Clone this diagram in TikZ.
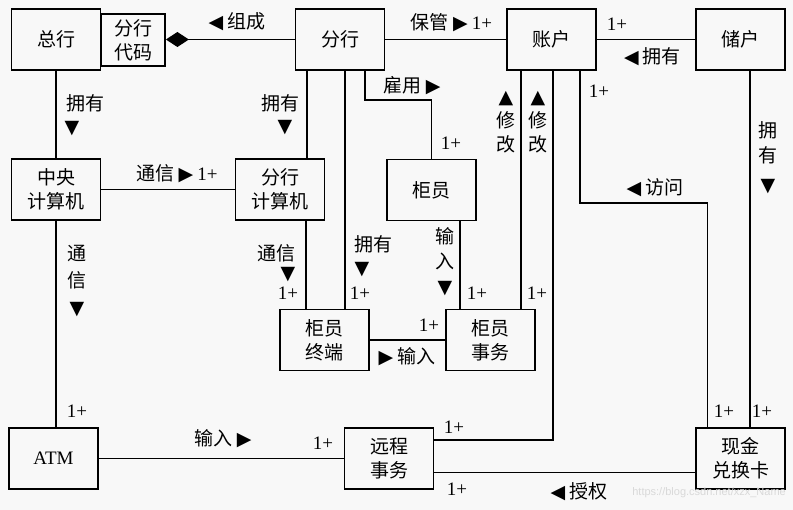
\documentclass[tikz,border=0pt]{standalone}
\usepackage{fontspec}
\setmainfont{Noto Sans CJK SC}
\newfontfamily\latf{Liberation Serif}
\newfontfamily\symf{DejaVu Sans}
\newfontfamily\urlf{Liberation Sans}
\usepackage{tikz}
\usetikzlibrary{positioning,arrows.meta}
\newcommand{\one}{{\latf 1+}}
\newcommand{\trir}{{\symf ▶}}
\newcommand{\tril}{{\symf ◀}}
\newcommand{\triu}{{\symf ▲}}
\newcommand{\trid}{{\symf ▼}}
\definecolor{bg}{gray}{0.973}
\tikzstyle{int}=[draw, minimum height = 61pt, minimum width=89pt, line width=1.8pt, align=center, inner sep=0pt]
\tikzstyle{int1}=[draw, minimum height = 52pt, minimum width=64pt, line width=1.8pt, align=center, inner sep=0pt]
\tikzstyle{lab}=[inner sep=0pt, align=center]
\tikzstyle{con}=[line width=1.8pt]

\begin{document}
\begin{tikzpicture}[x=1pt,y=-1pt,font=\fontsize{19}{24}\selectfont]
\fill[bg] (0,0) rectangle (793,510);
\useasboundingbox (0,0) rectangle (793,510);

  \node[int] at (56,39.5) (zonghang) {总行};
  \node[int1] at (133,40) (daima) {分行\\代码};
  \node[int] at (340,39.5) (fenhang) {分行};
  \node[int] at (551.5,39.5) (zhanghu) {账户};
  \node[int] at (740.5,39.5) (chuhu) {储户};

  \node[int] at (56,189.5) (zhongyang) {中央\\计算机};
  \node[int] at (280,189.5) (fjsj) {分行\\计算机};
  \node[int] at (431.5,190) (guiyuan) {柜员};

  \node[int] at (324.5,340) (zhongduan) {柜员\\终端};
  \node[int] at (490.5,340) (shiwu) {柜员\\事务};

  \node[int] at (53.5,458.5) (atm) {\latf ATM};
  \node[int] at (389,458.5) (yuancheng) {远程\\事务};
  \node[int] at (740.5,458.5) (xianjin) {现金\\兑换卡};

% top row
\draw[con,-{Diamond[length=23pt,width=15pt]}] (fenhang.west) -- (fenhang.west -| daima.east);
\node[lab] at (237,22) (zucheng) {\tril\ 组成};
\draw[con] (fenhang) -- (zhanghu);
\node[lab] at (451.5,23) (baoguan) {保管 \trir\ \one};
\draw[con] (zhanghu) -- (chuhu);
\node[lab] at (617,24) (m1) {\one};
\node[lab] at (652.5,57) (yongyou1) {\tril\ 拥有};

% left column
\draw[con] (zonghang) -- (zhongyang);
\node[lab] at (85,103) (yongyou2) {拥有};
\node[lab] at (72,129) (yongyou2t) {\trid};
\draw[con] (zhongyang) -- (fjsj);
\node[lab] at (177,174) (tongxin1) {通信 \trir\ \one};
\draw[con] (zhongyang) -- (zhongyang |- atm.north);
\node[lab, font=\fontsize{19}{27}\selectfont] at (77,281) (tongxin2) {通\\信\\\trid};
\node[lab] at (77,411) (m2) {\one};

% branch
\draw[con] ([xshift=-33pt]fenhang.south) -- ([xshift=-33pt]fenhang.south |- fjsj.north);
\node[lab] at (280,103) (yongyou3) {拥有};
\node[lab] at (285,128) (yongyou3t) {\trid};
\draw[con] ([xshift=26pt]fjsj.south) -- ([xshift=26pt]fjsj.south |- zhongduan.north);
\node[lab] at (276,253) (tongxin3) {通信};
\node[lab] at (288,275) (tongxin3t) {\trid};
\node[lab] at (288,293) (m3) {\one};
\draw[con] ([xshift=5pt]fenhang.south) -- ([xshift=5pt]fenhang.south |- zhongduan.north);
\node[lab] at (373,244) (yongyou4) {拥有};
\node[lab] at (362,270) (yongyou4t) {\trid};
\node[lab] at (360,293) (m4) {\one};

\coordinate (gy) at (365,100);
\draw[con] ([xshift=25pt]fenhang.south) -- (gy) -| (guiyuan.north);
\node[lab] at (412,86) (guyong) {雇用 \trir};
\node[lab] at (451,143) (m5) {\one};
\draw[con] ([xshift=28.5pt]guiyuan.south) -- ([xshift=28.5pt]guiyuan.south |- shiwu.north);
\node[lab, font=\fontsize{19}{25}\selectfont] at (445,262) (shuru1) {输\\入\\\trid};
\node[lab] at (477,293) (m6) {\one};

\draw[con] (zhongduan) -- (shiwu);
\node[lab] at (429,325) (m7) {\one};
\node[lab] at (407,357) (shuru2) {\trir\ 输入};

% account
\draw[con] ([xshift=-30.5pt]zhanghu.south) -- ([xshift=-30.5pt]zhanghu.south |- shiwu.north);
\node[lab] at (506,122) (xiugai1) {\triu\\修\\改};
\node[lab] at (538,122) (xiugai2) {\triu\\修\\改};
\node[lab] at (537,293) (m8) {\one};
\coordinate (yc) at (553,440);
\draw[con] ([xshift=1.5pt]zhanghu.south) -- (yc) -- (yc -| yuancheng.east);
\node[lab] at (454,427) (m9) {\one};
\coordinate (fw) at (580,203);
\draw[con] ([xshift=28.5pt]zhanghu.south) -- (fw) -| ([xshift=-33pt]xianjin.north);
\node[lab] at (599,91) (m10) {\one};
\node[lab] at (655,188) (fangwen) {\tril\ 访问};
\node[lab] at (724,411) (m11) {\one};
\draw[con] ([xshift=9.5pt]chuhu.south) -- ([xshift=9.5pt]chuhu.south |- xianjin.north);
\node[lab, font=\fontsize{19}{25}\selectfont] at (768,158) (yongyou5) {拥\\有\\[4pt]\trid};
\node[lab] at (762,411) (m12) {\one};

% bottom row
\draw[con] (atm) -- (yuancheng);
\node[lab] at (223,439) (shuru3) {输入 \trir};
\node[lab] at (323,443) (m13) {\one};
\draw[con] ([yshift=-14pt]yuancheng.east) -- ([yshift=-14pt]yuancheng.east -| xianjin.west);
\node[lab] at (457,489) (m14) {\one};
\node[lab] at (579,492) (shouquan) {\tril\ 授权};
\node[lab, text=gray!30, font=\urlf\fontsize{11}{13}\selectfont, anchor=east] at (786,493) (wm) {https://blog.csdn.net/xzx\_Name};
\end{tikzpicture}
\end{document}
